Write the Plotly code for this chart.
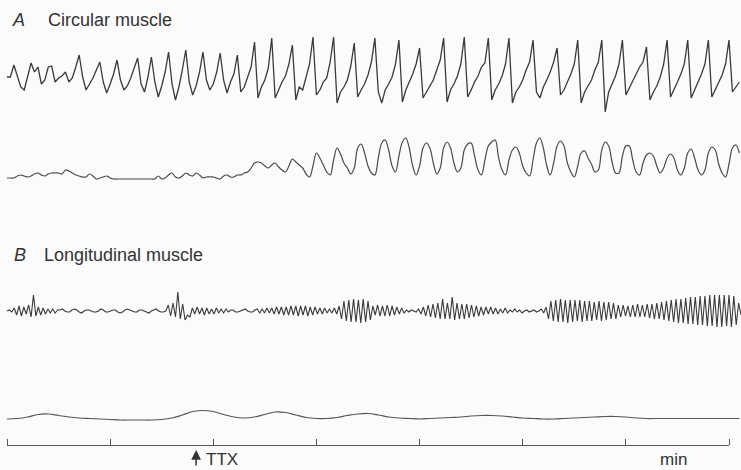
import numpy as np
import plotly.graph_objects as go

# ---------------- data ----------------
# A: circular muscle, electrical record (upward deflection, arbitrary units), sampled every 2 s
circ_dt_s = 2.0
circ_electrical = [
    -5, -5, 7, -5, -15, -18, -5, 9, 0, 5, -12, -8, 5, 6, -10, -6, -4, 0, -10, -6, 5,
    17,
    -5, -18, -12, -6, 2, 10,
    -10, -21, -12, -2, 12,
    -8, -18, -14, -6, 3, 14,
    -12, -20, -5, 15,
    -10, -25, -14, 0, 20,
    -12, -28, -15, 2, 22,
    -10, -23, -14, 0, 20,
    -8, -18, -12, 0, 19,
    -8, -21, -10, -2, 17,
    -20, -15, -5, 5, 30,
    -26, -15, -8, 4, 34,
    -26, -18, -10, -4, 8, 27,
    -28, -15, -18, -5, 8, 35,
    -23, -18, -10, -6, 10, 35,
    -31, -20, -15, -8, 6, 29,
    -25, -18, -12, -3, 10, 34,
    -20, -31, -18, -12, -5, 8, 32,
    -30, -18, -10, -2, 8, 24,
    -26, -20, -14, -8, 2, 12, 34,
    -30, -18, -12, -4, 8, 35,
    -25, -18, -10, -4, 5, 9, 34,
    -28, -18, -12, -4, 8, 34,
    -31, -20, -15, -8, 2, 10, 32,
    -20, -26, -15, -8, 0, 10, 24,
    -23, -18, -10, -2, 8, 32,
    -31, -20, -14, -8, 2, 10, 32,
    -40, -20, -12, -4, 8, 32,
    -23, -16, -10, -2, 5, 10, 25,
    -28, -20, -14, -5, 8, 32,
    -25, -18, -10, -2, 8, 32,
    -26, -18, -10, -2, 8, 32,
    -25, -18, -10, -3, 8, 32,
    -20, -15, -10,
]

# A: circular muscle, mechanical record (contraction upward), sampled every 2 s
circ_mechanical = [
    0, 0, 0, 2, 3, 2, 1, 2, 4, 5, 3, 2, 4, 5, 5, 5, 4, 8, 7, 5,
    3, 2, 1, 1, 4, 2, -1, 0, 1, 2, 0, -1, -1, -1, -1, -1, -1, -1, -1, -1,
    -1, -1, -1, -1, 2, -1, 0, 3, 5, 1, 0, 2, 5, 3, 2, 5, 3, 0, 1, 1,
    1, 0, -1, 2, 3, 1, 1, 3, 3, 5, 6, 10, 15, 16, 15, 12, 10, 13, 15, 11,
    8, 6, 12, 19, 16, 13, 10, 4, 1, 12, 25, 20, 13, 6, 3, 18, 30, 24, 15, 10,
    4, 10, 30, 34, 25, 12, 5, 3, 20, 35, 38, 28, 12, 6, 22, 36, 40, 30, 12, 3,
    12, 30, 35, 30, 15, 4, 10, 30, 36, 30, 15, 6, 10, 28, 34, 35, 22, 8, 3, 18,
    32, 36, 38, 20, 8, 3, 18, 28, 31, 25, 12, 5, 2, 18, 35, 40, 30, 12, 3, 15,
    32, 37, 32, 15, 6, 1, 12, 25, 27, 20, 14, 6, 8, 28, 36, 32, 16, 5, 5, 22,
    32, 32, 18, 6, 3, 15, 23, 25, 22, 12, 5, 10, 20, 24, 20, 8, 3, 10, 25, 29,
    20, 8, 3, 8, 25, 31, 28, 14, 5, 1, 14, 30, 33, 25,
]

# B: longitudinal muscle, electrical record, sampled every 1.4 s
long_dt_s = 1.4
long_electrical = [
    0, 1, -1,
    3, -4, 5, -5, 4, -3, 6, -6, 16, -5, 4, -4, 3, -3, 2, -2, 2, -2, 1,
    1, 2, 0, -1, -1, 1, 2, 1, -1, -2, 0, 1, 1, 0, -1, -1, 0, 2, 1, -1,
    -1, 0, 1, 1, -1, -2, -1, 1, 2, 1, 0, -1, -1, 1, 1, 0, -1, -2, 0, 1,
    2, 0, -1, -1, 0,
    6, -5, 8, -6, 19, -8, 7, -9, -4, -6,
    3, -3, 4, -3, 3, -4, 3, -3, 2, -3, 3, -2, 2, -2, 2, -1,
    1, 1, -1, -1, 0, 1, 2, 0, -1, -1, 1, 2,
    -2, 2, -2, 3, -2, 3, -3, 4, -3, 4, -4, 4, -4, 5, -4, 5, -5, 5, -4, 5,
    -5, 4, -4, 4, -3, 3, -3, 3, -2,
    2, -2, 3, -3, 5,
    -8, 10, -10, 11, -11, 12, -11, 11, -12, 12, -11, 10, -9,
    5, -4, 6, -5, 5, -5, 6, -5, 5, -4, 4, -3, 3, -2,
    1, -1, 1, 0, -1, 2,
    -3, 4, -5, 6, -6, 7, -7, 8, -8, 12, -8, 8, -8, 14, -9, 8, -8, 7, -8, 7,
    -7, 6, -6, 5, -5,
    4, -4, 4, -3, 4, -3, 3, -3, 2, -2, 3, -2,
    1, -1, 2, -1, 1, -2, 0, 1, -1, 0, 1, -1, 0,
    2, -2, 4,
    -8, 10, -10, 11, -11, 12, -11, 11, -12, 11, -11, 11, -10, 11, -11, 10, -10, 10, -10, 9,
    -9, 10, -10, 9, -9, 9, -8, 8, -8,
    6, -6, 6, -5, 5, -6, 6, -6, 7, -6, 6, -6, 7,
    -7, 7, -8, 8, -8, 9, -9, 10, -10, 11, -11, 12, -12, 12, -12, 13, -13, 14, -13, 14,
    -14, 15, -14, 15, -15, 16, -15, 16, -16, 16, -16, 16, -15, 16, -16, 15, -14, 8, -4,
]

# B: longitudinal muscle, mechanical record, sampled every 6 s
slow_dt_s = 6.0
long_mechanical = [
    0, 0.5, 2, 4.5, 5, 3.5, 2, 1, 0.5, 0, -0.5, -1, -1, -1, -1, -0.5, 1, 4, 7.5, 8.5,
    7.5, 4.5, 2, 1, 2, 4.5, 7, 6.5, 4, 1.5, 0.5, 0.5, 1.5, 3.5, 5, 5.5, 4, 2, 1, 0.5,
    0, 0.5, 1, 1.5, 2, 3, 3.5, 3.5, 3, 2, 1, 0.5, 0, 0, 0.5, 1, 1.5, 2, 2.5, 2.5,
    2, 1, 0.5, 0.5, 0.5, 0.5, 0.5, 0.5, 0.5, 0.5, 0.5, 0.5,
]

# time scale bar (s) and TTX application time (s)
time_ticks_s = [0, 60, 120, 180, 240, 300, 360, 420]
ttx_time_s = 110
time_unit_label = "min"
panel_titles = [("A", "Circular muscle"), ("B", "Longitudinal muscle")]

# ---------------- layout constants (pixels) ----------------
W, H = 741, 470
PX0 = 7.0                 # pixel of t = 0
PX_PER_S = (729 - 7) / 420.0
x_range = [-PX0 / PX_PER_S, (W - PX0) / PX_PER_S]


def dom(top_px, bottom_px):
    return [1 - bottom_px / H, 1 - top_px / H]


FONT = "Liberation Sans, Arial, Helvetica, sans-serif"
TXT = "#333333"
BG = "#fbfbfb"

fig = go.Figure()


def add_trace(values, dt, yaxis, color, width, shape="linear"):
    t = np.arange(len(values)) * dt
    fig.add_trace(go.Scatter(x=t, y=values, mode="lines", xaxis="x", yaxis=yaxis,
                             line=dict(color=color, width=width, shape=shape),
                             hoverinfo="skip", showlegend=False))


add_trace(circ_electrical, circ_dt_s, "y", "#3a3a3a", 1.3)
add_trace(circ_mechanical, circ_dt_s, "y2", "#4a4a4a", 1.2, "spline")
add_trace(long_electrical, long_dt_s, "y3", "#3a3a3a", 1.1)
add_trace(long_mechanical, slow_dt_s, "y4", "#555555", 1.2, "spline")
# carrier for the time-bar axis
fig.add_trace(go.Scatter(x=[time_ticks_s[0]], y=[0], mode="markers", xaxis="x5", yaxis="y5",
                         marker=dict(opacity=0), hoverinfo="skip", showlegend=False))

hidden = dict(visible=False, showgrid=False, zeroline=False, fixedrange=True)
fig.update_layout(
    width=W, height=H,
    margin=dict(l=0, r=0, t=0, b=0),
    paper_bgcolor=BG, plot_bgcolor=BG,
    xaxis=dict(domain=[0, 1], range=x_range, anchor="y", **hidden),
    yaxis=dict(domain=dom(27, 117), range=[-45, 45], anchor="x", **hidden),
    yaxis2=dict(domain=dom(133, 188), range=[-10, 45], anchor="x", **hidden),
    yaxis3=dict(domain=dom(291, 331), range=[-20, 20], anchor="x", **hidden),
    yaxis4=dict(domain=dom(404, 424), range=[-5, 15], anchor="x", **hidden),
    xaxis5=dict(domain=[PX0 / W, 729 / W], range=[time_ticks_s[0], time_ticks_s[-1]],
                anchor="y5", side="top", showline=True, linecolor="#555", linewidth=1.2,
                ticks="outside", ticklen=6, tickwidth=1.2, tickcolor="#555",
                tickvals=time_ticks_s, showticklabels=False, showgrid=False,
                zeroline=False, fixedrange=True),
    yaxis5=dict(domain=dom(446, 460), range=[0, 1], anchor="x5", **hidden),
)

ann = []
ys = [20, 255]
xs_letter = [10, 12]
xs_title = [46, 42]
for (letter, title), y, xl, xt in zip(panel_titles, ys, xs_letter, xs_title):
    ann.append(dict(text=f"<i>{letter}</i>", x=xl / W, y=1 - y / H, xref="paper", yref="paper",
                    xanchor="left", yanchor="middle", showarrow=False,
                    font=dict(family=FONT, size=18, color=TXT)))
    ann.append(dict(text=title, x=xt / W, y=1 - y / H, xref="paper", yref="paper",
                    xanchor="left", yanchor="middle", showarrow=False,
                    font=dict(family=FONT, size=18, color=TXT)))
# TTX arrow
ann.append(dict(text="", x=ttx_time_s, xref="x5", y=1 - 450 / H, yref="paper",
                ax=0, ay=17, showarrow=True, arrowhead=2, arrowsize=1.3, arrowwidth=1.5,
                arrowcolor="#333", standoff=0))
ann.append(dict(text="TTX", x=205 / W, y=1 - 459 / H, xref="paper", yref="paper",
                xanchor="left", yanchor="middle", showarrow=False, borderpad=0,
                font=dict(family=FONT, size=17, color=TXT)))
ann.append(dict(text=time_unit_label, x=659 / W, y=1 - 459 / H, xref="paper", yref="paper",
                xanchor="left", yanchor="middle", showarrow=False, borderpad=0,
                font=dict(family=FONT, size=17, color=TXT)))
fig.update_layout(annotations=ann)

fig.write_html("out.html")
